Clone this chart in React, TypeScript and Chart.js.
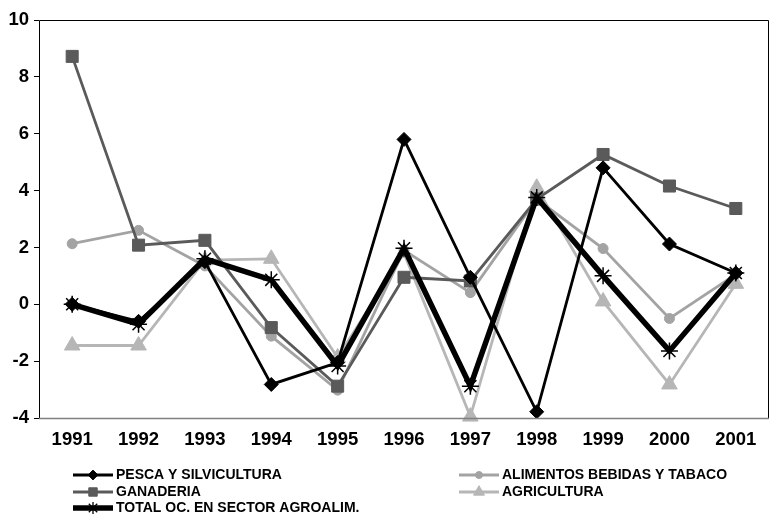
import React, { useEffect, useRef } from "react";
import { Chart, registerables } from "chart.js";
import { drawPoint } from "chart.js/helpers";

Chart.register(...registerables);

const years = ["1991", "1992", "1993", "1994", "1995", "1996", "1997", "1998", "1999", "2000", "2001"];
const pesca = [0.0, -0.6, 1.5, -2.82, -2.05, 5.8, 0.95, -3.78, 4.8, 2.12, 1.1];
const ganaderia = [8.72, 2.08, 2.25, -0.82, -2.88, 0.95, 0.82, 3.7, 5.27, 4.16, 3.37];
const alimentos = [2.13, 2.6, 1.35, -1.12, -3.02, 1.9, 0.41, 3.7, 1.96, -0.5, 1.05];
const agricultura = [-1.45, -1.45, 1.55, 1.6, -1.87, 1.8, -3.95, 4.1, 0.1, -2.82, 0.72];
const total = [0.0, -0.7, 1.6, 0.86, -2.17, 1.97, -2.88, 3.76, 1.0, -1.64, 1.1];
const yTicks = [-4, -2, 0, 2, 4, 6, 8, 10];

const FONT = "'Liberation Sans', Arial, sans-serif";

type Series = {
  label: string;
  data: number[];
  color: string;
  width: number;
  style: string;
  radius: number;
  order: number;
  col: number;
  row: number;
};

const series: Series[] = [
  { label: "PESCA Y SILVICULTURA", data: pesca, color: "#000000", width: 2.8, style: "rectRot", radius: 7, order: 1, col: 0, row: 0 },
  { label: "ALIMENTOS BEBIDAS Y TABACO", data: alimentos, color: "#a3a3a3", width: 2.8, style: "circle", radius: 5, order: 3, col: 1, row: 0 },
  { label: "GANADERIA", data: ganaderia, color: "#5a5a5a", width: 2.8, style: "rect", radius: 8.5, order: 2, col: 0, row: 1 },
  { label: "AGRICULTURA", data: agricultura, color: "#b6b6b6", width: 2.8, style: "triangle", radius: 9, order: 4, col: 1, row: 1 },
  { label: "TOTAL OC. EN SECTOR AGROALIM.", data: total, color: "#000000", width: 5.5, style: "star", radius: 8.5, order: 0, col: 0, row: 2 },
];

const legendPlugin = {
  id: "customLegend",
  afterDraw(chart: any) {
    const ctx = chart.ctx as CanvasRenderingContext2D;
    const colX = [73, 459];
    const rowY = [475, 492, 508];
    ctx.save();
    series.forEach((s) => {
      const x = colX[s.col];
      const y = rowY[s.row];
      ctx.strokeStyle = s.color;
      ctx.lineWidth = s.width;
      ctx.beginPath();
      ctx.moveTo(x, y);
      ctx.lineTo(x + 40, y);
      ctx.stroke();
      ctx.fillStyle = s.color;
      ctx.strokeStyle = s.color;
      ctx.lineWidth = s.style === "star" ? 1.3 : 1;
      drawPoint(ctx, { pointStyle: s.style as any, radius: s.radius * 0.7, borderWidth: s.style === "star" ? 1.3 : 1, rotation: 0 } as any, x + 20, y);
      ctx.fillStyle = "#000";
      ctx.font = `bold 14px ${FONT}`;
      ctx.textBaseline = "middle";
      ctx.textAlign = "left";
      ctx.fillText(s.label, x + 43, y + 0.5);
    });
    ctx.restore();
  },
};

const framePlugin = {
  id: "frame",
  afterDatasetsDraw(chart: any) {
    const { ctx, chartArea } = chart;
    const { left, right, top, bottom } = chartArea;
    ctx.save();
    ctx.lineWidth = 1;
    ctx.strokeStyle = "#000";
    ctx.beginPath();
    ctx.moveTo(left + 0.5, bottom);
    ctx.lineTo(left + 0.5, top + 0.5);
    ctx.lineTo(right - 0.5, top + 0.5);
    ctx.lineTo(right - 0.5, bottom);
    ctx.stroke();
    ctx.strokeStyle = "#808080";
    ctx.lineWidth = 1.5;
    ctx.beginPath();
    ctx.moveTo(left, bottom + 0.5);
    ctx.lineTo(right, bottom + 0.5);
    ctx.stroke();
    ctx.restore();
  },
};

export default function App() {
  const ref = useRef<HTMLCanvasElement | null>(null);
  useEffect(() => {
    if (!ref.current) return;
    const chart = new Chart(ref.current, {
      type: "line",
      data: {
        labels: years,
        datasets: series.map((s) => ({
          label: s.label,
          data: s.data,
          borderColor: s.color,
          backgroundColor: s.color,
          borderWidth: s.width,
          pointStyle: s.style as any,
          pointRadius: s.radius,
          pointBorderWidth: s.style === "star" ? 1.5 : 1,
          pointBorderColor: s.color,
          pointBackgroundColor: s.color,
          tension: 0,
          order: s.order,
          clip: false as any,
        })),
      },
      options: {
        responsive: false,
        animation: false,
        devicePixelRatio: 1,
        layout: { padding: { top: 20, right: 1, left: 0, bottom: 0 } },
        plugins: {
          legend: { display: false },
          tooltip: { enabled: false },
        },
        scales: {
          x: {
            offset: true,
            grid: { display: true, drawOnChartArea: false, drawTicks: false },
            border: { display: false },
            ticks: {
              color: "#000",
              font: { family: FONT, size: 18.5, weight: "bold" },
              padding: 11,
              maxRotation: 0,
              autoSkip: false,
            },
            afterFit(scale: any) {
              scale.height = 97;
            },
          },
          y: {
            min: -4,
            max: 10,
            afterBuildTicks(scale: any) {
              scale.ticks = yTicks.map((v) => ({ value: v }));
            },
            grid: { display: true, drawOnChartArea: false, drawTicks: true, tickLength: 5, color: "#000" },
            border: { display: false },
            ticks: {
              color: "#000",
              font: { family: FONT, size: 18.5, weight: "bold" },
              padding: 5,
            },
            afterFit(scale: any) {
              scale.width = 39;
            },
          },
        },
      },
      plugins: [framePlugin, legendPlugin],
    });
    return () => chart.destroy();
  }, []);
  return (
    <div style={{ position: "fixed", left: 0, top: 0, width: 779, height: 515, background: "#fff" }}>
      <canvas ref={ref} width={779} height={515} style={{ width: 779, height: 515, display: "block" }} />
    </div>
  );
}
